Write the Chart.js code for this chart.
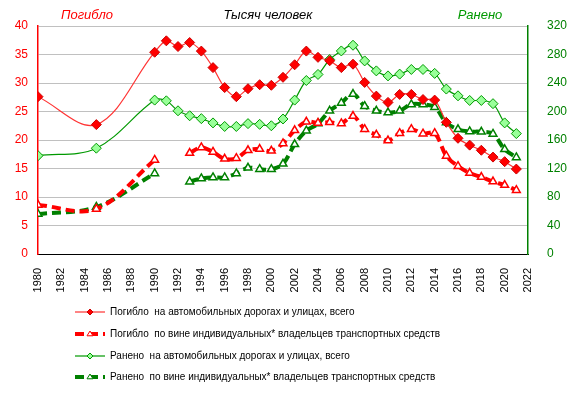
<!DOCTYPE html>
<html><head><meta charset="utf-8">
<script src="https://cdn.jsdelivr.net/npm/chart.js@4"></script>
<style>html,body{margin:0;padding:0;background:#fff;}#wrap{width:573px;height:395px;}</style>
</head><body><div id="wrap"><canvas id="c" width="573" height="395"></canvas></div>
<script>
const years = [1980,1985,1990,1991,1992,1993,1994,1995,1996,1997,1998,1999,2000,2001,2002,2003,2004,2005,2006,2007,2008,2009,2010,2011,2012,2013,2014,2015,2016,2017,2018,2019,2020,2021];
const killedTotal = [27.6,22.7,35.4,37.4,36.4,37.1,35.6,32.7,29.2,27.6,29.0,29.7,29.6,31.0,33.2,35.6,34.5,33.9,32.7,33.3,30.1,27.7,26.6,28.0,28.0,27.1,27.0,23.1,20.3,19.1,18.2,17.0,16.2,14.9];
const killedIndiv = [8.6,7.9,16.5,null,null,17.7,18.7,17.9,16.7,16.8,18.2,18.4,18.1,19.4,21.7,23.2,23.0,23.1,22.9,24.2,21.9,20.9,19.9,21.2,21.9,21.1,21.2,17.2,15.4,14.2,13.5,12.7,12.1,11.2];
const injuredTotal = [138,148.5,216,215,201,194,190,184,179,179,183,182,180,189.5,216,243.5,252,273,285,293,271,257,250,252.5,259,259,253.5,231.5,222,215.5,215.5,211,184,169];
const injuredIndiv = [56,66,113,null,null,101.5,106,107.5,107.5,113,121,119,119,126.5,154,173,183,201,212,224.5,207.5,201,198.5,201,210,210,206,184.5,175,172,171.5,168.5,147,135.5];
const leftTicks = {min:0,max:40,step:5};
const rightTicks = {min:0,max:320,step:40};
const xTicks = {min:1980,max:2022,step:2};
const titles = {left:'Погибло', center:'Тысяч человек', right:'Ранено'};
const legendLabels = [
  'Погибло  на автомобильных дорогах и улицах, всего',
  'Погибло  по вине индивидуальных* владельцев транспортных средств',
  'Ранено  на автомобильных дорогах и улицах, всего',
  'Ранено  по вине индивидуальных* владельцев транспортных средств'
];

const FONT = '"Liberation Sans", Arial, sans-serif';
const pts = arr => years.map((y,i)=>({x:y,y:arr[i]}));

const RED='#ff0000', GREEN='#009900', DKGREEN='#008000';

const datasets = [
  {label:legendLabels[0], data:pts(killedTotal), yAxisID:'y', borderColor:'#ff3333', borderWidth:1.2,
   pointStyle:'rectRot', pointRadius:5, pointBackgroundColor:RED, pointBorderColor:'#cc0000', pointBorderWidth:1, tension:0.35},
  {label:legendLabels[2], data:pts(injuredTotal), yAxisID:'y1', borderColor:GREEN, borderWidth:1.2,
   pointStyle:'rectRot', pointRadius:5, pointBackgroundColor:'#99ff99', pointBorderColor:GREEN, pointBorderWidth:1, tension:0.35},
  {label:legendLabels[1], data:pts(killedIndiv), yAxisID:'y', borderColor:RED, borderWidth:4, borderDash:[9,5],
   pointStyle:'triangle', pointRadius:4.5, pointBackgroundColor:'#ffffff', pointBorderColor:RED, pointBorderWidth:1.5, tension:0.35, spanGaps:false},
  {label:legendLabels[3], data:pts(injuredIndiv), yAxisID:'y1', borderColor:DKGREEN, borderWidth:4, borderDash:[9,5],
   pointStyle:'triangle', pointRadius:4.5, pointBackgroundColor:'#ffffff', pointBorderColor:DKGREEN, pointBorderWidth:1.5, tension:0.35, spanGaps:false}
];

const decor = {
  id:'decor',
  afterDraw(chart){
    const ctx = chart.ctx;
    ctx.save();
    ctx.font = 'italic 13px '+FONT;
    ctx.textBaseline = 'middle';
    ctx.textAlign = 'center';
    ctx.fillStyle = RED; ctx.fillText(titles.left, 87, 15);
    ctx.fillStyle = '#000'; ctx.fillText(titles.center, 268, 15);
    ctx.fillStyle = GREEN; ctx.fillText(titles.right, 480, 15);
    // legend
    const rows = [312, 334, 356, 377];
    const order = [0,2,1,3];
    ctx.font = '10px '+FONT;
    ctx.textAlign = 'left';
    rows.forEach((ry, k) => {
      const ds = chart.data.datasets[order[k]];
      ctx.save();
      ctx.strokeStyle = ds.borderColor;
      ctx.lineWidth = ds.borderWidth;
      if (ds.borderDash) ctx.setLineDash(ds.borderDash);
      ctx.beginPath(); ctx.moveTo(75, ry); ctx.lineTo(105, ry); ctx.stroke();
      ctx.restore();
      ctx.fillStyle = ds.pointBackgroundColor; ctx.strokeStyle = ds.pointBorderColor; ctx.lineWidth = 1;
      ctx.beginPath();
      if (ds.pointStyle === 'triangle') {
        ctx.moveTo(90, ry-3); ctx.lineTo(93, ry+1.8); ctx.lineTo(87, ry+1.8); ctx.closePath();
      } else {
        ctx.moveTo(87, ry); ctx.lineTo(90, ry-3); ctx.lineTo(93, ry); ctx.lineTo(90, ry+3); ctx.closePath();
      }
      ctx.fill(); ctx.stroke();
      ctx.fillStyle = '#000';
      ctx.fillText(ds.label, 110, ry);
    });
    ctx.restore();
  }
};

new Chart(document.getElementById('c'), {
  type:'line',
  data:{datasets},
  options:{
    responsive:false, animation:false,
    layout:{padding:{top:26,left:0,right:0,bottom:0}},
    plugins:{legend:{display:false}, tooltip:{enabled:false}},
    scales:{
      x:{type:'linear', min:xTicks.min, max:xTicks.max,
         ticks:{stepSize:xTicks.step, color:'#000', font:{family:FONT,size:11}, minRotation:90, maxRotation:90, padding:6, autoSkip:false,
                callback:v=>String(v)},
         grid:{display:false}, border:{color:'#000', width:1},
         afterFit(s){ s.height = 141; }},
      y:{position:'left', min:leftTicks.min, max:leftTicks.max,
         ticks:{stepSize:leftTicks.step, color:RED, font:{family:FONT,size:12}, padding:10},
         grid:{color:'#c0c0c0', drawTicks:false, lineWidth:1}, border:{color:RED, width:1.5},
         afterFit(s){ s.width = 38; }},
      y1:{position:'right', min:rightTicks.min, max:rightTicks.max,
         ticks:{stepSize:rightTicks.step, color:DKGREEN, font:{family:FONT,size:12}, padding:11},
         grid:{display:false}, border:{color:DKGREEN, width:1.5},
         afterFit(s){ s.width = 45; }}
    }
  },
  plugins:[decor]
});
</script></body></html>
